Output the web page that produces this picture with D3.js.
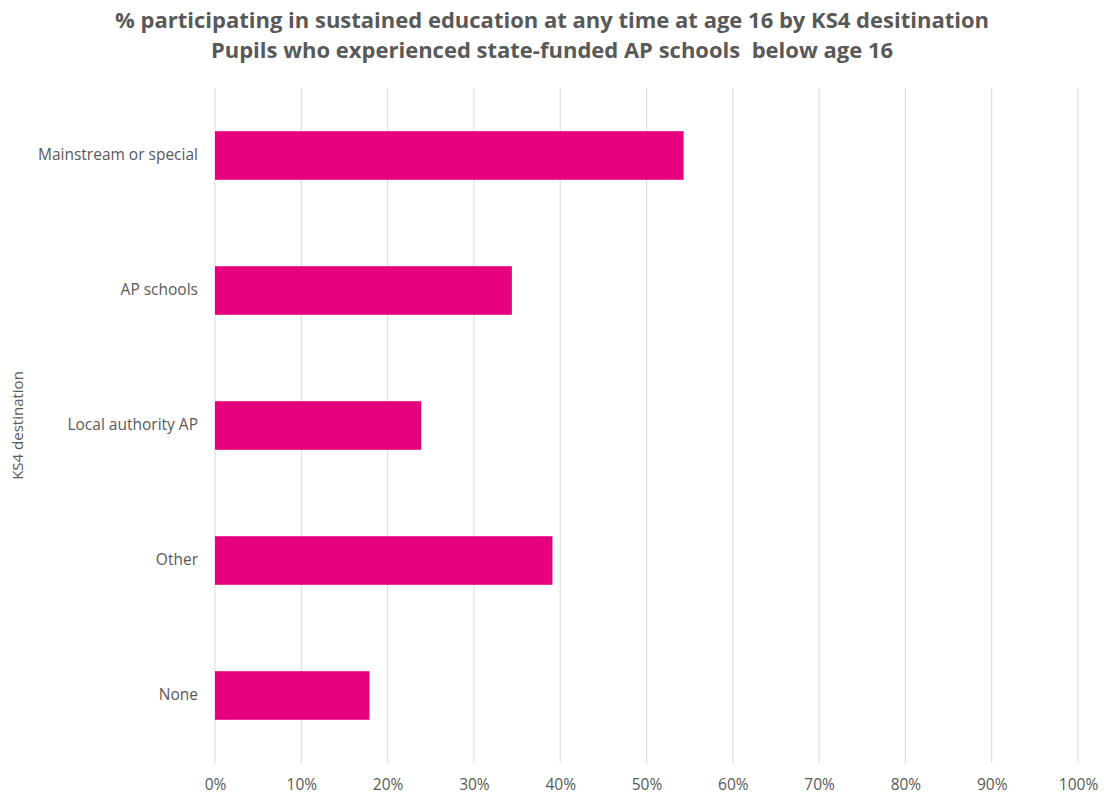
<!DOCTYPE html>
<html>
<head>
<meta charset="utf-8">
<script src="https://cdn.jsdelivr.net/npm/d3@7"></script>
<style>
  body { margin: 0; background: #fff; }
  svg { display: block; font-family: "Open Sans", Lato, sans-serif; }
</style>
</head>
<body>
<svg id="chart" width="1104" height="798"></svg>
<script>
// KS4 destination categories and share participating in sustained education (%)
const categories = ["Mainstream or special", "AP schools", "Local authority AP", "Other", "None"];
const values = [54.3, 34.4, 23.9, 39.1, 17.9];
const tickValues = [0, 10, 20, 30, 40, 50, 60, 70, 80, 90, 100];
const titleLines = [
  "% participating in sustained education at any time at age 16 by KS4 desitination",
  "Pupils who experienced state-funded AP schools  below age 16"
];
const yAxisTitle = "KS4 destination";

const svg = d3.select("#chart");
const margin = { top: 88, right: 26, bottom: 35, left: 215 };
const width = 1104 - margin.left - margin.right;
const height = 798 - margin.top - margin.bottom;
const font = "'Open Sans', Lato, sans-serif";

const g = svg.append("g").attr("transform", `translate(${margin.left},${margin.top})`);

const x = d3.scaleLinear().domain([0, 100]).range([0, width]);
const y = d3.scaleBand().domain(categories).range([0, height])
  .paddingInner(0.64).paddingOuter(0.32);

// vertical gridlines
g.selectAll("line.grid").data(tickValues).join("line")
  .attr("class", "grid")
  .attr("x1", d => x(d)).attr("x2", d => x(d))
  .attr("y1", 0).attr("y2", height)
  .attr("stroke", "#d9d9d9").attr("stroke-width", 1);

// bars
g.selectAll("rect.bar").data(values).join("rect")
  .attr("class", "bar")
  .attr("x", x(0))
  .attr("y", (d, i) => y(categories[i]))
  .attr("width", d => x(d) - x(0))
  .attr("height", y.bandwidth())
  .attr("fill", "#e6007e");

// x axis labels
const xAxis = g.append("g").attr("transform", `translate(0,${height})`)
  .call(d3.axisBottom(x).tickValues(tickValues).tickFormat(d => d + "%").tickSize(0).tickPadding(16));
xAxis.select(".domain").remove();
xAxis.selectAll("text").attr("fill", "#595959").style("font-size", "15.5px")
  .style("font-family", font);

// y axis labels
const yAxis = g.append("g")
  .call(d3.axisLeft(y).tickSize(0).tickPadding(17));
yAxis.select(".domain").remove();
yAxis.selectAll("text").attr("fill", "#595959").style("font-size", "15.5px")
  .style("font-family", font);

// y axis title
svg.append("text")
  .attr("transform", `translate(23,${margin.top + height / 2}) rotate(-90)`)
  .attr("text-anchor", "middle")
  .attr("fill", "#595959")
  .style("font-size", "15px")
  .text(yAxisTitle);

// chart title
svg.selectAll("text.title").data(titleLines).join("text")
  .attr("class", "title")
  .attr("x", 552)
  .attr("y", (d, i) => 28 + i * 30)
  .attr("text-anchor", "middle")
  .attr("fill", "#595959")
  .style("font-size", "22px")
  .style("font-weight", "bold")
  .style("white-space", "pre")
  .text(d => d);
</script>
</body>
</html>
